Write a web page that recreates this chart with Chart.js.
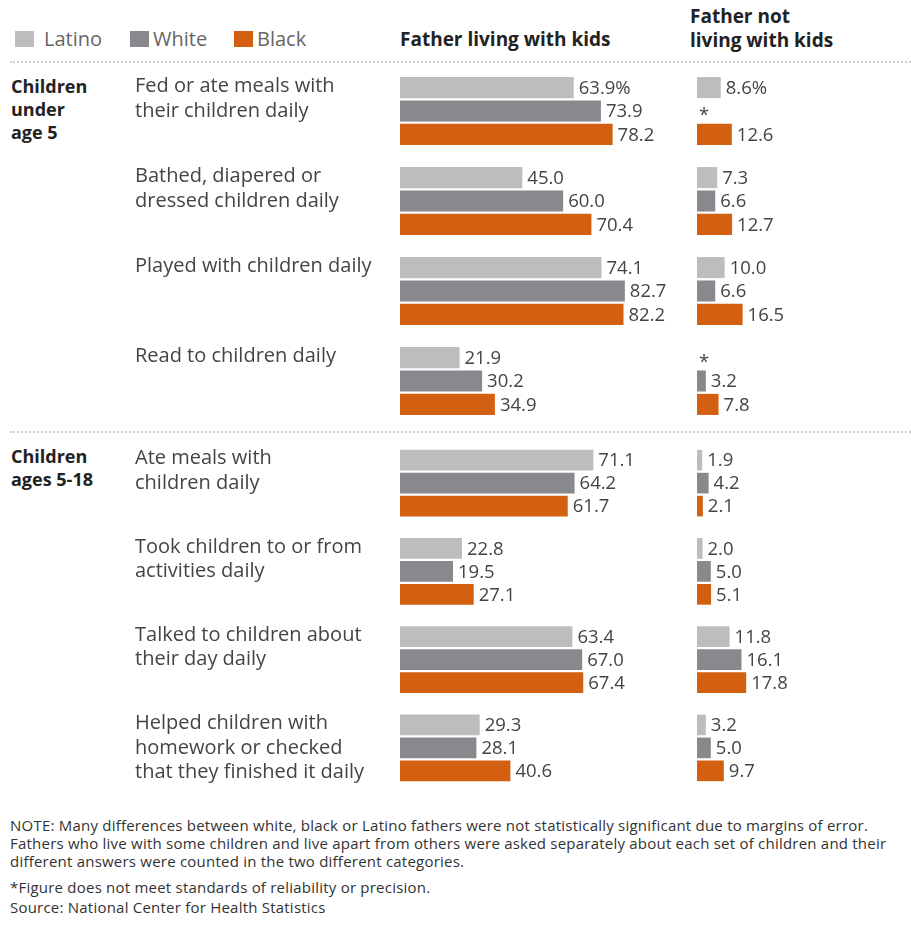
<!DOCTYPE html>
<html>
<head>
<meta charset="utf-8">
<script src="https://cdn.jsdelivr.net/npm/chart.js@4.4.0/dist/chart.umd.min.js"></script>
<style>
  body{margin:0;background:#fff;font-family:"Open Sans",sans-serif;color:#333}
  #wrap{position:relative;width:911px;height:932px;overflow:hidden;background:#fff}
  .abs{position:absolute}
  .dots{position:absolute;left:10px;right:0;height:0;border-top:2px dotted #cfcfcf}
  .head{font-weight:700;font-size:19px;color:#222;line-height:24px;white-space:nowrap}
  .sect{font-weight:700;font-size:18px;color:#222;line-height:23px}
  .leg{font-size:20px;color:#666;line-height:20px;white-space:nowrap}
  .sq{position:absolute;width:19px;height:16px}
  .note{font-family:"Open Sans",sans-serif;font-size:15px;letter-spacing:0.22px;color:#333;line-height:18px;left:10px;white-space:nowrap}
  canvas{position:absolute}
</style>
</head>
<body>
<div id="wrap">
  <div id="legend"></div>
  <div class="abs head" style="left:400px;top:27px">Father living with kids</div>
  <div class="abs head" style="left:690px;top:4px">Father not<br>living with kids</div>
  <div class="dots" style="top:61px"></div>
  <div class="abs sect" id="sect0" style="left:11px;top:75px"></div>
  <div class="dots" style="top:431px"></div>
  <div class="abs sect" id="sect1" style="left:11px;top:445px"></div>

  <canvas id="livTop"  width="560" height="360" style="left:135px;top:66px"></canvas>
  <canvas id="apTop"   width="210" height="360" style="left:697px;top:66px"></canvas>
  <canvas id="livBot"  width="560" height="353" style="left:135px;top:439px"></canvas>
  <canvas id="apBot"   width="210" height="353" style="left:697px;top:439px"></canvas>

  <div class="abs note" style="top:816px">NOTE: Many differences between white, black or Latino fathers were not statistically significant due to margins of error.<br>Fathers who live with some children and live apart from others were asked separately about each set of children and their<br>different answers were counted in the two different categories.</div>
  <div class="abs note" style="top:878px">*Figure does not meet standards of reliability or precision.</div>
  <div class="abs note" style="top:898px">Source: National Center for Health Statistics</div>
</div>

<script>
/* ===== Dados ===== */
const sections = [['Children','under','age 5'], ['Children','ages 5-18']];
const activities = [
  ['Fed or ate meals with','their children daily',''],
  ['Bathed, diapered or','dressed children daily',''],
  ['Played with children daily','',''],
  ['Read to children daily','',''],
  ['Ate meals with','children daily',''],
  ['Took children to or from','activities daily',''],
  ['Talked to children about','their day daily',''],
  ['Helped children with','homework or checked','that they finished it daily']
];
const series = ['Latino','White','Black'];
const colors = ['#bdbdbd','#88888d','#d35f10'];

// pai morando com os filhos
const livingLatino = [63.9, 45.0, 74.1, 21.9, 71.1, 22.8, 63.4, 29.3];
const livingWhite  = [73.9, 60.0, 82.7, 30.2, 64.2, 19.5, 67.0, 28.1];
const livingBlack  = [78.2, 70.4, 82.2, 34.9, 61.7, 27.1, 67.4, 40.6];
// pai não morando com os filhos (null = não confiável, "*")
const apartLatino  = [8.6, 7.3, 10.0, null, 1.9, 2.0, 11.8, 3.2];
const apartWhite   = [null, 6.6, 6.6, 3.2, 4.2, 5.0, 16.1, 5.0];
const apartBlack   = [12.6, 12.7, 16.5, 7.8, 2.1, 5.1, 17.8, 9.7];

/* ===== Legenda e seções ===== */
const legX = [15, 130, 234];
document.getElementById('legend').innerHTML = series.map((s,i)=>
  `<div class="sq" style="left:${legX[i]}px;top:31px;background:${colors[i]}"></div>` +
  `<div class="abs leg" style="left:${legX[i]+(i===0?29:23)}px;top:29px">${s}</div>`).join('');
sections.forEach((s,i)=> document.getElementById('sect'+i).innerHTML = s.join('<br>'));

/* ===== Rótulos de valor ===== */
const valueLabels = {
  id:'valueLabels',
  afterDatasetsDraw(chart, args, opts){
    const {ctx} = chart;
    ctx.save();
    ctx.font = '18.5px "Open Sans"';
    ctx.fillStyle = '#444';
    ctx.textBaseline = 'middle';
    chart.data.datasets.forEach((ds, di)=>{
      chart.getDatasetMeta(di).data.forEach((bar, i)=>{
        const v = ds.data[i];
        if (isNaN(bar.y)) return;
        if (v == null){ ctx.fillText('*', chart.chartArea.left + 2, bar.y + 5); return; }
        let txt = v.toFixed(1);
        if (opts.pct && i===0 && di===0) txt += '%';
        ctx.fillText(txt, bar.x + 5, bar.y + 1);
      });
    });
    ctx.restore();
  }
};

function makeChart(id, from, to, sets, xmax, withLabels, pct){
  return new Chart(document.getElementById(id), {
    type:'bar',
    data:{
      labels: activities.slice(from, to),
      datasets: sets.map((d,i)=>({ label:series[i], data:d.slice(from,to), backgroundColor:colors[i],
        categoryPercentage:0.78, barPercentage:0.9 }))
    },
    options:{
      indexAxis:'y', responsive:false, animation:false,
      layout:{padding:0},
      plugins:{ legend:{display:false}, tooltip:{enabled:false}, valueLabels:{pct} },
      scales:{
        x:{ display:false, min:0, max:xmax },
        y:{ display:withLabels, grid:{display:false}, border:{display:false},
            afterFit:(s)=>{ if (withLabels){ s.width = 265; s.paddingTop = 0; s.paddingBottom = 0; } },
            ticks:{ crossAlign:'far', padding:0, color:'#444',
                    font:{family:'"Open Sans"', size:20, lineHeight:1.22} } }
      }
    },
    plugins:[valueLabels]
  });
}

const living = [livingLatino, livingWhite, livingBlack];
const apart  = [apartLatino, apartWhite, apartBlack];
makeChart('livTop', 0, 4, living, 108.5, true, true);
makeChart('apTop',  0, 4, apart, 76, false, true);
makeChart('livBot', 4, 8, living, 108.5, true, false);
makeChart('apBot',  4, 8, apart, 76, false, false);
</script>
</body>
</html>
